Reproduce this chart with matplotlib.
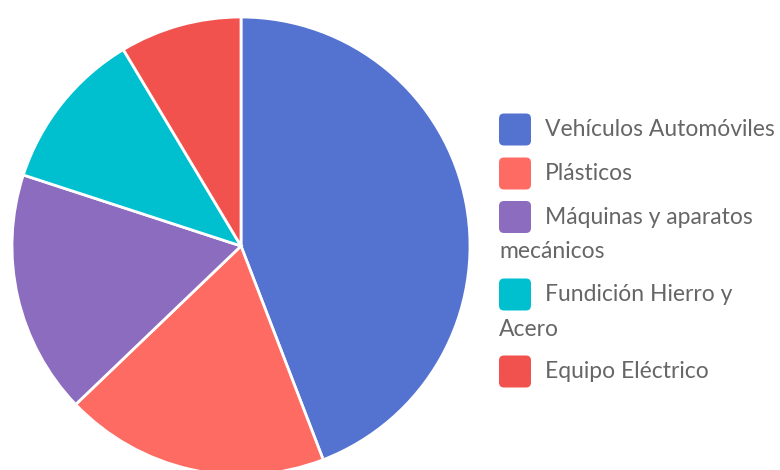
import matplotlib.pyplot as plt
from matplotlib.patches import FancyBboxPatch

labels = ["Vehículos Automóviles", "Plásticos", "Máquinas y aparatos\nmecánicos",
          "Fundición Hierro y\nAcero", "Equipo Eléctrico"]
shares = [44.2, 18.7, 17.2, 11.4, 8.6]
colors = ["#5473d1", "#fe6b62", "#8c6cbe", "#00c0cf", "#f1524d"]

W, H = 780, 470
fig = plt.figure(figsize=(W / 100, H / 100), dpi=100)

# pie: center (241, 246) px from top, radius 229 px
cx, cy, r = 241, 246, 229
ax = fig.add_axes([(cx - r) / W, (H - cy - r) / H, 2 * r / W, 2 * r / H])
ax.pie(shares, colors=colors, startangle=90, counterclock=False,
       wedgeprops=dict(edgecolor="white", linewidth=2))
ax.set_xlim(-1, 1)
ax.set_ylim(-1, 1)
ax.axis("off")

# legend drawn in pixel coordinates
lg = fig.add_axes([0, 0, 1, 1], zorder=5)
lg.set_xlim(0, W)
lg.set_ylim(H, 0)
lg.axis("off")

patch_y = [129.5, 173.5, 217, 294.5, 371.5]
line_gap = 35
font = dict(fontsize=16.5, family="Lato", color="#666666", va="center", ha="left")
for label, color, y in zip(labels, colors, patch_y):
    lg.add_patch(FancyBboxPatch((499, y - 16), 32, 32,
                                boxstyle="round,pad=0,rounding_size=5",
                                facecolor=color, edgecolor="none"))
    parts = label.split("\n")
    lg.text(545, y, parts[0], **font)
    for k, part in enumerate(parts[1:], start=1):
        lg.text(499, y + k * line_gap, part, **font)

fig.savefig("out.png", dpi=100)
